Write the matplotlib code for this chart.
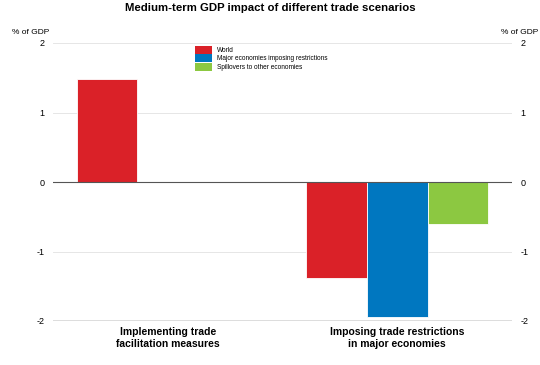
import numpy as np
import matplotlib.pyplot as plt
from matplotlib.patches import Patch

plt.rcParams['font.family'] = ['Liberation Sans', 'DejaVu Sans']

categories = ['Implementing trade\nfacilitation measures', 'Imposing trade restrictions\nin major economies']
series = ['World', 'Major economies imposing restrictions', 'Spillovers to other economies']
world = [1.48, -1.38]
major = [np.nan, -1.94]
spill = [np.nan, -0.60]
colors = ['#DA2128', '#0077C0', '#8CC841']
yticks = [-2, -1, 0, 1, 2]

fig = plt.figure(figsize=(5.4, 3.65), dpi=100)
ax = fig.add_axes([53 / 540, 1 - 321 / 365, 459 / 540, 278 / 365])

x = np.arange(len(categories))
w = 0.264
for i, (vals, c) in enumerate(zip([world, major, spill], colors)):
    ax.bar(x + (i - 1) * w, vals, w, color=c, edgecolor='white', linewidth=0.6, zorder=3)

ax.set_xlim(-0.5, 1.5)
ax.set_ylim(-2, 2)
for t in [1, 2, -1]:
    ax.axhline(t, color='#E6E6E6', linewidth=0.7, zorder=1)
ax.axhline(0, color='#555555', linewidth=0.8, zorder=4)
ax.axhline(-2, color='#555555', linewidth=1.0, zorder=4)

for s in ax.spines.values():
    s.set_visible(False)
ax.set_yticks(yticks)
ax.set_yticklabels([str(t) for t in yticks])
ax.tick_params(axis='y', length=0, labelsize=6.5, pad=6, labelleft=True, labelright=True)
ax.set_xticks(x)
ax.set_xticklabels(categories, fontsize=7.5, fontweight='bold', linespacing=1.35)
ax.tick_params(axis='x', length=0, pad=4)

fig.text(0.5, 1 - 8 / 365, 'Medium-term GDP impact of different trade scenarios',
         ha='center', va='center', fontsize=8.2, fontweight='bold')
fig.text(12 / 540, 1 - 32 / 365, '% of GDP', ha='left', va='center', fontsize=6)
fig.text(538 / 540, 1 - 32 / 365, '% of GDP', ha='right', va='center', fontsize=6)

handles = [Patch(facecolor=c, edgecolor='none') for c in colors]
fig.legend(handles, series, loc='upper left', bbox_to_anchor=(190 / 540, 1 - 41 / 365),
           frameon=False, fontsize=4.7, handlelength=2.6, handleheight=1.5,
           labelspacing=0.1, handletextpad=0.8, borderpad=0.2)

fig.savefig('out.png', dpi=100)
